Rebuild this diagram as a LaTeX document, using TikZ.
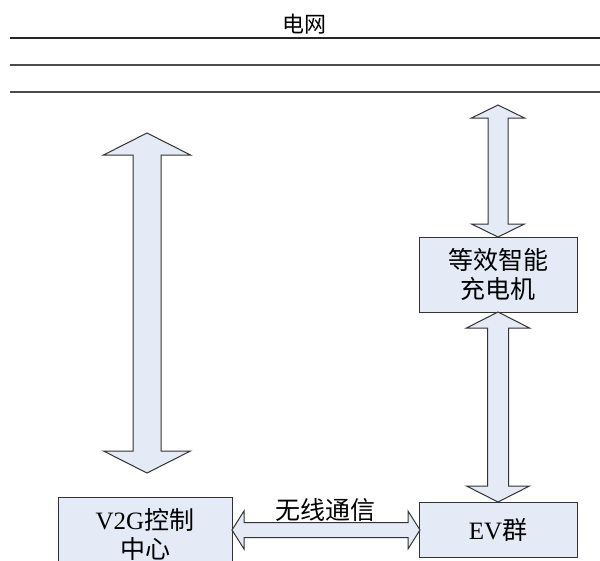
\documentclass[tikz,border=0pt]{standalone}
\usepackage{fontspec}
\setmainfont{Liberation Serif}
\newfontfamily\cjk{Noto Sans CJK SC}
\definecolor{boxfill}{RGB}{228,234,246}
\definecolor{gridline}{RGB}{60,60,60}
\newcommand\vdarrow[6]{% cx, ytop, ybot, headlen, shafthalf, headhalf
  \draw[blockarrow] (#1,#2) -- (#1+#6,#2+#4) -- (#1+#5,#2+#4) -- (#1+#5,#3-#4) -- (#1+#6,#3-#4)
   -- (#1,#3) -- (#1-#6,#3-#4) -- (#1-#5,#3-#4) -- (#1-#5,#2+#4) -- (#1-#6,#2+#4) -- cycle;}
\newcommand\hdarrow[6]{% cy, xleft, xright, headlen, shafthalf, headhalf
  \draw[blockarrow] (#2,#1) -- (#2+#4,#1-#6) -- (#2+#4,#1-#5) -- (#3-#4,#1-#5) -- (#3-#4,#1-#6)
   -- (#3,#1) -- (#3-#4,#1+#6) -- (#3-#4,#1+#5) -- (#2+#4,#1+#5) -- (#2+#4,#1+#6) -- cycle;}
\begin{document}
\begin{tikzpicture}[x=1pt,y=-1pt,
  blockarrow/.style={draw=black!80, fill=boxfill, line width=1pt, line join=miter},
  unitbox/.style={draw=black!80, fill=boxfill, line width=1pt, inner sep=0pt, align=center},
  busline/.style={line width=1.3pt, draw=gridline},
  lbl/.style={font=\fontsize{25}{31}\selectfont}]
\clip (0,0) rectangle (600,560);
\fill[white] (0,0) rectangle (600,560);
% grid lines
\node[font=\cjk\fontsize{22}{24}\selectfont] (grid) at (304,24) {电网};
\coordinate (l1a) at (10,38); \coordinate (l1b) at (600,38);
\coordinate (l2a) at (10,65); \coordinate (l2b) at (600,65);
\coordinate (l3a) at (10,92); \coordinate (l3b) at (600,92);
\draw[busline, line width=2pt, draw=black!85] (l1a) -- (l1b);
\draw[busline, draw=black!70] (l2a) -- (l2b);
\draw[busline, draw=black!70] (l3a) -- (l3b);
% boxes
\node[unitbox, minimum width=158pt, minimum height=75pt, lbl] (chg) at (498,274.5)
  {\cjk 等效智能\\[-2pt]\cjk 充电机};
\node[unitbox, minimum width=158pt, minimum height=55pt, lbl] (ev) at (498,529.5)
  {EV{\cjk 群}};
\draw[draw=black!80, fill=boxfill, line width=1pt] (58,497) rectangle (232,570);
\node[lbl, align=center] (v2g) at (145,534) {V2G{\cjk 控制}\\[-2pt]{\cjk 中心}};
% arrows
\vdarrow{147}{133}{473}{22}{14}{43.5}
\vdarrow{498}{105}{237}{13}{10}{26.5}
\vdarrow{498}{312}{502}{16}{10.5}{31.5}
\hdarrow{530}{232}{420}{12}{7.5}{19}
\node[lbl] (wl) at (325,510) {\cjk 无线通信};
\end{tikzpicture}
\end{document}
